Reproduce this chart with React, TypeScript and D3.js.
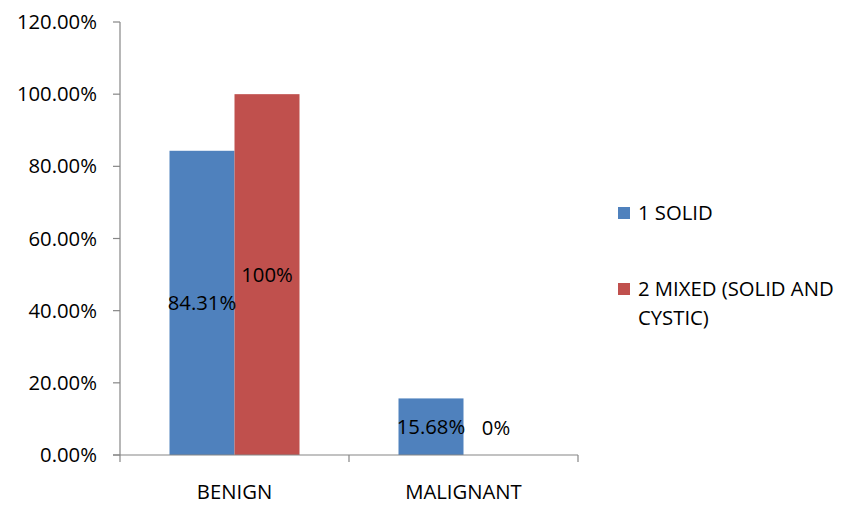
import React from "react";
import * as d3 from "d3";

const categories = ["BENIGN", "MALIGNANT"];
const seriesNames = ["1 SOLID", "2 MIXED (SOLID AND CYSTIC)"];
const solidValues = [84.31, 15.68];
const mixedValues = [100, 0];
const valueLabels = [
  ["84.31%", "15.68%"],
  ["100%", "0%"],
];
const yTicks = [0, 20, 40, 60, 80, 100, 120];
const legendLines = [["1 SOLID"], ["2 MIXED (SOLID AND", "CYSTIC)"]];

const W = 847;
const H = 506;
const colors = ["#4F81BD", "#C0504D"];
const axisColor = "#868686";
const font = "'Open Sans', sans-serif";
const fs = 20.3;

export default function App() {
  const left = 120;
  const right = 578;
  const top = 22;
  const bottom = 455;

  const y = d3.scaleLinear().domain([0, 120]).range([bottom, top]);
  const x0 = d3.scaleBand<string>().domain(categories).range([left, right]).padding(0);
  const groupPad = 49.5;
  const x1 = d3
    .scaleBand<number>()
    .domain([0, 1])
    .range([groupPad, x0.bandwidth() - groupPad])
    .padding(0);

  const series = [solidValues, mixedValues];
  const tickEdges = [left, ...categories.map((c) => (x0(c) as number) + x0.bandwidth())];

  return (
    <svg
      width={W}
      height={H}
      style={{ position: "absolute", left: 0, top: 0, background: "#fff" }}
      fontFamily={font}
    >
      {/* bars */}
      {series.map((vals, si) =>
        vals.map((v, ci) => {
          const bx = (x0(categories[ci]) as number) + (x1(si) as number);
          return (
            <rect
              key={`b${si}-${ci}`}
              x={bx}
              y={y(v)}
              width={x1.bandwidth()}
              height={bottom - y(v)}
              fill={colors[si]}
            />
          );
        })
      )}

      {/* y axis */}
      <line x1={left} x2={left} y1={top} y2={bottom} stroke={axisColor} strokeWidth={1.2} />
      {yTicks.map((t) => (
        <g key={`yt${t}`}>
          <line x1={left - 7} x2={left} y1={y(t)} y2={y(t)} stroke={axisColor} strokeWidth={1.2} />
          <text x={97} y={y(t)} dy="0.35em" textAnchor="end" fontSize={fs} fill="#000">
            {t.toFixed(2)}%
          </text>
        </g>
      ))}

      {/* x axis */}
      <line x1={left - 7} x2={right} y1={bottom} y2={bottom} stroke={axisColor} strokeWidth={1.2} />
      {tickEdges.map((tx, i) => (
        <line key={`xt${i}`} x1={tx} x2={tx} y1={bottom} y2={bottom + 7} stroke={axisColor} strokeWidth={1.2} />
      ))}
      {categories.map((c) => (
        <text
          key={`c${c}`}
          x={(x0(c) as number) + x0.bandwidth() / 2}
          y={499}
          textAnchor="middle"
          fontSize={fs}
          fill="#000"
        >
          {c}
        </text>
      ))}

      {/* value labels */}
      {series.map((vals, si) =>
        vals.map((v, ci) => {
          const cx = (x0(categories[ci]) as number) + (x1(si) as number) + x1.bandwidth() / 2;
          const mid = (y(v) + bottom) / 2;
          const ly = Math.min(mid, bottom - 27);
          return (
            <text
              key={`l${si}-${ci}`}
              x={cx}
              y={ly}
              dy="0.35em"
              textAnchor="middle"
              fontSize={fs}
              fill="#000"
            >
              {valueLabels[si][ci]}
            </text>
          );
        })
      )}

      {/* legend */}
      {seriesNames.map((name, si) => {
        const ly = si === 0 ? 213 : 289;
        return (
          <g key={`lg${si}`}>
            <rect x={618} y={ly - 6} width={12} height={12} fill={colors[si]} />
            {legendLines[si].map((ln, li) => (
              <text
                key={`lt${li}`}
                x={638}
                y={ly + li * 29}
                dy="0.35em"
                fontSize={fs}
                fill="#000"
              >
                {ln}
              </text>
            ))}
          </g>
        );
      })}
    </svg>
  );
}
